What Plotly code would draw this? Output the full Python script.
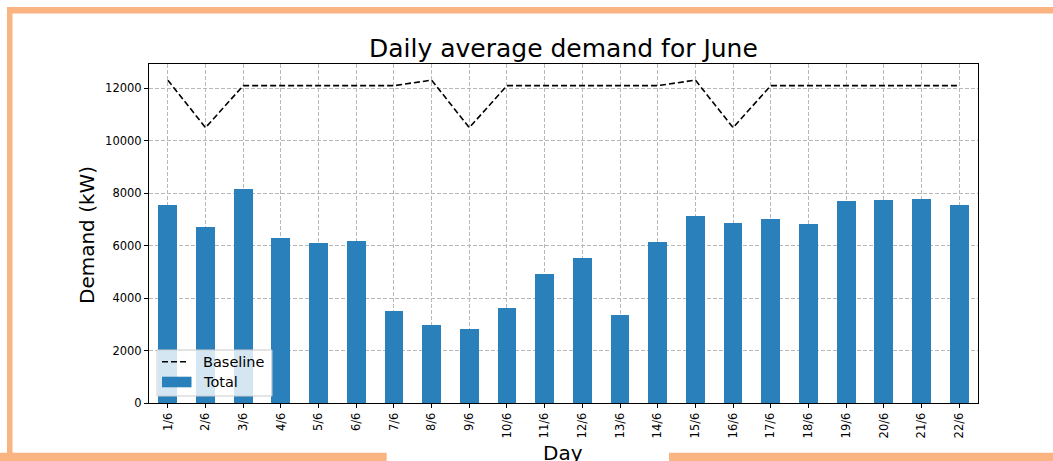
import plotly.graph_objects as go

days = ["1/6", "2/6", "3/6", "4/6", "5/6", "6/6", "7/6", "8/6", "9/6", "10/6", "11/6",
        "12/6", "13/6", "14/6", "15/6", "16/6", "17/6", "18/6", "19/6", "20/6", "21/6", "22/6"]
total = [7540, 6690, 8140, 6290, 6080, 6180, 3490, 2960, 2820, 3610, 4910,
         5510, 3370, 6130, 7140, 6870, 7000, 6810, 7710, 7730, 7770, 7540]
baseline = [12300, 10490, 12090, 12090, 12090, 12090, 12090, 12300, 10490, 12090, 12090,
            12090, 12090, 12090, 12300, 10490, 12090, 12090, 12090, 12090, 12090, 12090]

BLUE = "#2a80bb"
ORANGE = "#f9b482"
FONT = "DejaVu Sans"

# plot area in pixels: left 149, right 978, top 64, bottom 403
L, R, T, B = 149, 978, 64, 403
W, H = R - L, B - T


def px(x):
    return (x - L) / W


def py(y):
    return (B - y) / H


fig = go.Figure()
fig.add_trace(go.Bar(x=list(range(len(days))), y=total, name="Total", width=0.5,
                     marker=dict(color=BLUE, line=dict(width=0)), showlegend=False))
fig.add_trace(go.Scatter(x=list(range(len(days))), y=baseline, name="Baseline", mode="lines",
                         line=dict(color="black", width=1.6, dash="6px,3px"), showlegend=False))

axis_common = dict(showline=True, linecolor="black", linewidth=1, mirror=True,
                   ticks="outside", ticklen=4, tickcolor="black", tickwidth=1,
                   showgrid=True, gridcolor="#b8b8b8", griddash="4px,2px", gridwidth=1,
                   zeroline=False, layer="above traces",
                   tickfont=dict(family=FONT, size=11.5, color="black"))

fig.update_xaxes(range=[-0.5, 21.5], tickmode="array", tickvals=list(range(len(days))),
                 ticktext=days, tickangle=-90, **axis_common)
fig.update_yaxes(range=[0, 12915], tickmode="array", tickvals=[0, 2000, 4000, 6000, 8000, 10000, 12000],
                 ticktext=["0", "2000", "4000", "6000", "8000", "10000", "12000"], **axis_common)

shapes = []
# orange frame
for x0, x1, y0, y1 in [(7, 1060, 7, 13.5), (7, 12.5, 7, 470), (-10, 386.7, 452.7, 470), (669, 1060, 452.7, 470)]:
    shapes.append(dict(type="rect", xref="paper", yref="paper", x0=px(x0), x1=px(x1), y0=py(y1), y1=py(y0),
                       fillcolor=ORANGE, line=dict(width=0), layer="above"))
# legend box
shapes.append(dict(type="rect", xref="paper", yref="paper", x0=px(157), x1=px(272), y0=py(396), y1=py(350),
                   fillcolor="rgba(255,255,255,0.8)", line=dict(color="#cccccc", width=1), layer="above"))
shapes.append(dict(type="line", xref="paper", yref="paper", x0=px(162), x1=px(189), y0=py(361.7), y1=py(361.7),
                   line=dict(color="black", width=1.6, dash="6px,3px"), layer="above"))
shapes.append(dict(type="rect", xref="paper", yref="paper", x0=px(162), x1=px(191.5), y0=py(387.3), y1=py(376.7),
                   fillcolor=BLUE, line=dict(width=0), layer="above"))

annotations = [
    dict(text="Daily average demand for June", xref="paper", yref="paper", x=px(563), y=py(48),
         xanchor="center", yanchor="middle", showarrow=False, font=dict(family=FONT, size=25, color="black")),
    dict(text="Demand (kW)", xref="paper", yref="paper", x=px(87), y=py(235), textangle=-90,
         xanchor="center", yanchor="middle", showarrow=False, font=dict(family=FONT, size=20, color="black")),
    dict(text="Day", xref="paper", yref="paper", x=px(563), y=py(452.7),
         xanchor="center", yanchor="middle", showarrow=False, font=dict(family=FONT, size=20, color="black")),
    dict(text="Baseline", xref="paper", yref="paper", x=px(201), y=py(361.7),
         xanchor="left", yanchor="middle", showarrow=False, font=dict(family=FONT, size=14.5, color="black")),
    dict(text="Total", xref="paper", yref="paper", x=px(201), y=py(382),
         xanchor="left", yanchor="middle", showarrow=False, font=dict(family=FONT, size=14.5, color="black")),
]

fig.update_layout(width=1053, height=461, autosize=False,
                  margin=dict(l=L, r=1053 - R, t=T, b=461 - B, pad=0),
                  paper_bgcolor="white", plot_bgcolor="white",
                  shapes=shapes, annotations=annotations, showlegend=False,
                  font=dict(family=FONT, color="black"), bargap=0)

fig.write_html("out.html", config={"displayModeBar": False},
               post_script="document.body.style.margin='0';document.body.style.padding='0';"
                           "document.body.style.overflow='hidden';")
